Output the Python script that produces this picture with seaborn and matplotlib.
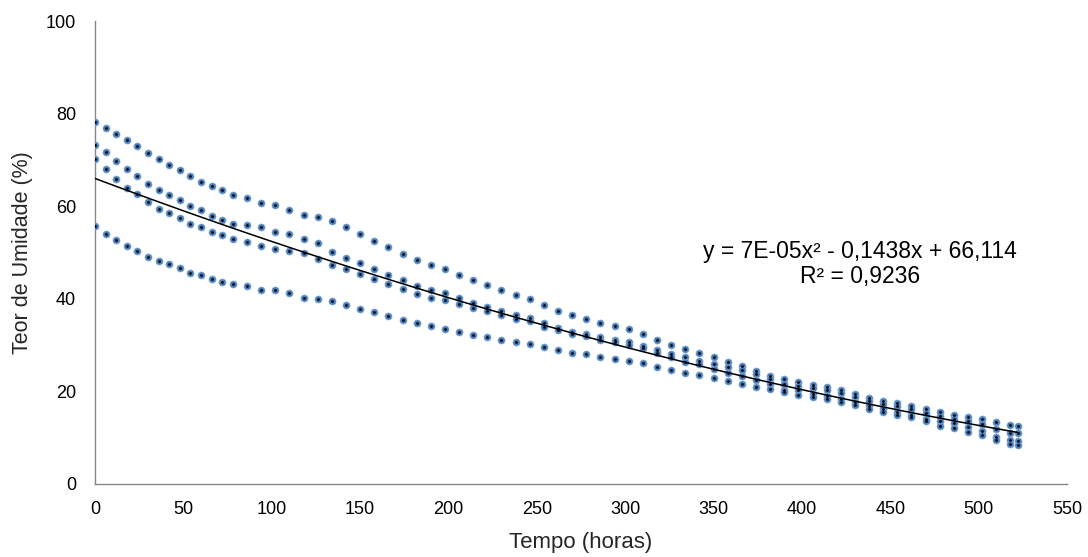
import numpy as np
import pandas as pd
import matplotlib
matplotlib.use("Agg")
import matplotlib.pyplot as plt
import seaborn as sns

# ---------------- data ----------------
time_early = [0, 6, 12, 18, 24, 30, 36, 42, 48, 54, 60, 66, 72, 78]
time_late = list(range(86, 519, 8)) + [522]
time_h = time_early + time_late

serie_a = [78.1, 76.8, 75.6, 74.3, 73.0, 71.4, 70.1, 69.0, 67.9, 66.5, 65.3, 64.4, 63.4, 62.5,
           61.8, 60.7, 60.2, 59.1, 58.2, 57.7, 56.8, 55.4, 54.0, 52.4, 51.1, 49.7, 48.4, 47.3,
           46.4, 45.1, 44.0, 42.9, 41.9, 40.8, 40.0, 38.7, 37.4, 36.5, 35.6, 34.8, 34.1, 33.4,
           32.4, 31.1, 30.1, 29.1, 28.4, 27.4, 26.3, 25.5, 24.3, 23.4, 22.6, 22.0, 21.3, 20.9,
           20.2, 19.4, 18.6, 18.0, 17.4, 16.9, 16.2, 15.5, 14.9, 14.4, 14.0, 13.3, 12.7, 12.5]

serie_b = [73.2, 71.6, 69.7, 68.0, 66.5, 64.9, 63.6, 62.4, 61.3, 60.0, 59.2, 57.9, 57.1, 56.2,
           55.9, 55.4, 54.5, 53.9, 52.9, 52.0, 50.2, 48.9, 47.7, 46.4, 45.2, 44.1, 42.8, 42.0,
           41.3, 40.2, 39.2, 38.2, 37.4, 36.4, 35.9, 34.7, 33.8, 32.9, 32.3, 31.8, 31.2, 30.6,
           29.9, 28.9, 28.1, 27.4, 26.6, 25.9, 25.3, 24.6, 23.8, 22.6, 21.6, 21.2, 20.7, 20.2,
           19.6, 18.7, 18.0, 17.2, 16.8, 16.1, 15.3, 14.7, 14.0, 13.6, 13.0, 11.8, 11.1, 11.1]

serie_c = [70.3, 68.1, 65.9, 64.0, 62.6, 60.9, 59.5, 58.5, 57.5, 56.2, 55.5, 54.5, 53.8, 52.9,
           52.3, 51.4, 50.8, 50.4, 49.9, 48.5, 47.3, 46.4, 45.3, 44.3, 43.1, 42.1, 41.0, 40.2,
           39.7, 38.8, 38.1, 37.3, 36.6, 35.6, 35.1, 33.9, 33.3, 32.5, 32.0, 31.1, 30.6, 30.0,
           29.3, 28.4, 27.5, 26.4, 25.9, 24.8, 24.0, 23.3, 22.5, 21.6, 20.3, 20.2, 19.4, 18.9,
           18.3, 17.8, 16.8, 16.2, 15.5, 14.9, 14.1, 13.5, 13.1, 12.4, 11.5, 10.2, 9.5, 9.3]

serie_d = [55.7, 53.9, 52.7, 51.5, 50.3, 49.1, 48.2, 47.5, 46.7, 45.6, 45.1, 44.3, 43.6, 43.1,
           42.7, 42.0, 41.8, 41.2, 40.2, 40.0, 39.6, 38.7, 37.8, 37.1, 36.2, 35.5, 34.8, 34.2,
           33.5, 32.8, 32.2, 31.7, 31.2, 30.7, 30.2, 29.6, 28.9, 28.4, 28.0, 27.5, 27.1, 26.5,
           26.2, 25.3, 24.7, 24.0, 23.5, 22.9, 22.2, 21.6, 21.0, 20.6, 19.8, 19.3, 18.7, 18.3,
           17.7, 17.1, 16.2, 15.6, 14.9, 14.4, 13.5, 12.6, 12.0, 11.3, 10.5, 9.4, 8.6, 8.4]

x_ticks = [0, 50, 100, 150, 200, 250, 300, 350, 400, 450, 500, 550]
y_ticks = [0, 20, 40, 60, 80, 100]
x_label = "Tempo (horas)"
y_label = "Teor de Umidade (%)"
equation = "y = 7E-05x² - 0,1438x + 66,114\nR² = 0,9236"

# ---------------- build table ----------------
frames = []
for name, vals in [("A", serie_a), ("B", serie_b), ("C", serie_c), ("D", serie_d)]:
    frames.append(pd.DataFrame({"t": time_h, "u": vals, "s": name}))
df = pd.concat(frames, ignore_index=True)

# ---------------- plot ----------------
sns.set_style("white")
plt.rcParams["font.family"] = ["Liberation Sans", "DejaVu Sans"]

W, H = 1088, 557
fig = plt.figure(figsize=(W / 100, H / 100), dpi=100)
ax = fig.add_axes([95 / W, 1 - 484 / H, (1067 - 95) / W, (484 - 21) / H])

sns.scatterplot(data=df, x="t", y="u", ax=ax, s=26, color="#4a7ebb",
                edgecolor="#86acdc", linewidth=0.5, legend=False, zorder=3)
sns.scatterplot(data=df, x="t", y="u", ax=ax, s=4, color="black",
                linewidth=0, legend=False, zorder=4)
sns.regplot(data=df, x="t", y="u", ax=ax, order=2, scatter=False, ci=None,
            line_kws={"color": "black", "linewidth": 1.1, "zorder": 5})

ax.set_xlim(0, 550)
ax.set_ylim(0, 100)
ax.set_xticks(x_ticks)
ax.set_yticks(y_ticks)
ax.set_xticklabels([str(v) for v in x_ticks], fontsize=13)
ax.set_yticklabels([str(v) for v in y_ticks], fontsize=13)

for side in ["top", "right"]:
    ax.spines[side].set_visible(False)
for side in ["left", "bottom"]:
    ax.spines[side].set_color("#868686")
    ax.spines[side].set_linewidth(1.0)

ax.tick_params(axis="both", direction="out", length=4.5, width=1.0,
               color="#868686", labelcolor="black")
ax.tick_params(axis="y", pad=9)
ax.tick_params(axis="x", pad=8)

ax.set_xlabel(x_label, fontsize=16, labelpad=10)
ax.set_ylabel(y_label, fontsize=15.5, labelpad=9)

ax.text(433, 47.6, equation, ha="center", va="center", multialignment="center",
        fontsize=16.5, color="black", linespacing=1.1)

fig.savefig("out.png", dpi=100)
